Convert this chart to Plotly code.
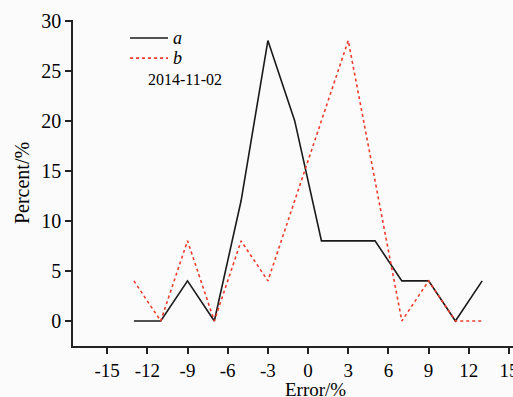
import plotly.graph_objects as go

error_x = [-13, -11, -9, -7, -5, -3, -1, 1, 3, 5, 7, 9, 11, 13]
series_a = [0, 0, 4, 0, 12, 28, 20, 8, 8, 8, 4, 4, 0, 4]
series_b = [4, 0, 8, 0, 8, 4, 12, 20, 28, 14, 0, 4, 0, 0]
x_ticks = [-15, -12, -9, -6, -3, 0, 3, 6, 9, 12, 15]
y_ticks = [0, 5, 10, 15, 20, 25, 30]
series_names = ["a", "b"]
date_label = "2014-11-02"

serif = "Liberation Serif, Times New Roman, serif"
color_a = "#1a1a1a"
color_b = "#f03a2a"

fig = go.Figure()
fig.add_trace(go.Scatter(x=error_x, y=series_a, mode="lines", name=series_names[0],
                         line=dict(color=color_a, width=1.6), showlegend=False))
fig.add_trace(go.Scatter(x=error_x, y=series_b, mode="lines", name=series_names[1],
                         line=dict(color=color_b, width=1.6, dash="dot"), showlegend=False))

# manual legend (paper coordinates)
legend_rows = [(0.945, series_names[0], color_a, "solid"),
               (0.883, series_names[1], color_b, "dot")]
for ypos, name, col, dash in legend_rows:
    fig.add_shape(type="line", xref="paper", yref="paper", x0=0.1295, x1=0.2159,
                  y0=ypos, y1=ypos, line=dict(color=col, width=1.6, dash=dash))
    fig.add_annotation(x=0.238, y=ypos, xref="paper", yref="paper", text=f"<i>{name}</i>",
                       showarrow=False, xanchor="center", yanchor="middle",
                       font=dict(family=serif, size=18, color="black"))

fig.add_annotation(x=0.166, y=0.819, xref="paper", yref="paper", text=date_label,
                   showarrow=False, xanchor="left", yanchor="middle",
                   font=dict(family=serif, size=16, color="black"))

# x-axis title (original axis extended past the crop, so title is off-centre)
fig.add_annotation(x=0.55, y=-0.132, xref="paper", yref="paper", text="Error/%",
                   showarrow=False, xanchor="center", yanchor="middle",
                   font=dict(family=serif, size=19, color="black"))

fig.update_layout(
    width=513, height=397,
    margin=dict(l=73, r=0, t=20, b=51, autoexpand=False),
    paper_bgcolor="#fbfbfb", plot_bgcolor="#fbfbfb",
    font=dict(family=serif, color="black", size=20),
    showlegend=False,
    xaxis=dict(range=[-17.55, 15.3], tickvals=x_ticks, ticktext=[str(v) for v in x_ticks],
               showgrid=False, zeroline=False, showline=True, linecolor="#222", linewidth=1.5,
               ticks="outside", ticklen=6, tickcolor="#222", tickwidth=1.5,
               ticklabeloverflow="allow", tickfont=dict(size=19)),
    yaxis=dict(range=[-2.5, 30.05], tickvals=y_ticks,
               showgrid=False, zeroline=False, showline=True, linecolor="#222", linewidth=1.5,
               ticks="outside", ticklen=6, tickcolor="#222", tickwidth=1.5,
               title=dict(text="Percent/%", font=dict(size=20), standoff=6),
               tickfont=dict(size=20)),
)

fig.write_html("out.html")
